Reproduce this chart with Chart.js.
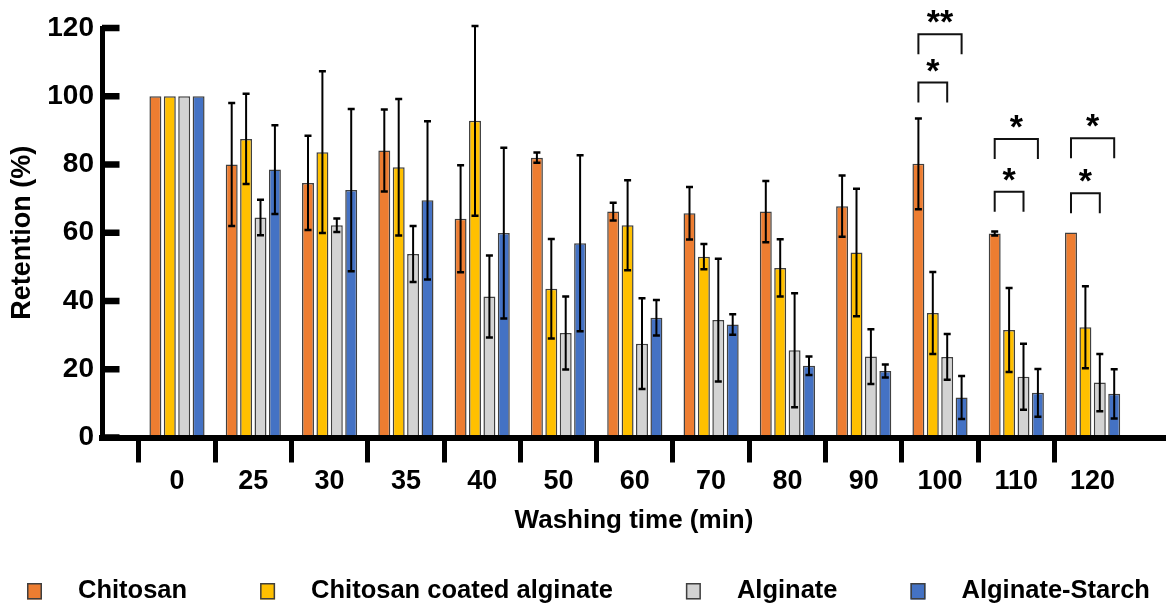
<!DOCTYPE html>
<html>
<head>
<meta charset="utf-8">
<script src="https://cdn.jsdelivr.net/npm/chart.js@4/dist/chart.umd.min.js"></script>
<style>
  html, body { margin: 0; padding: 0; background: #fff; }
</style>
</head>
<body>
<canvas id="retention-chart" width="1166" height="609"></canvas>
<script>
// Categorias (tiempo de lavado, min)
const washTimes = ['0', '25', '30', '35', '40', '50', '60', '70', '80', '90', '100', '110', '120'];

const seriesNames = ['Chitosan', 'Chitosan coated alginate', 'Alginate', 'Alginate-Starch'];
const seriesColors = ['#ED7D31', '#FFC000', '#D3D3D3', '#4472C4'];

// Retencion media (%)
const chitosan       = [100, 80, 74.6, 84.1, 64.1, 82.0, 66.2, 65.7, 66.2, 67.8, 80.2, 59.8, 60.1];
const coatedAlginate = [100, 87.5, 83.6, 79.2, 92.8, 43.6, 62.2, 53.0, 49.7, 54.2, 36.5, 31.5, 32.3];
const alginate       = [100, 64.5, 62.2, 53.8, 41.3, 30.6, 27.5, 34.4, 25.6, 23.7, 23.6, 17.8, 16.1];
const alginateStarch = [100, 78.5, 72.5, 69.5, 59.9, 56.9, 35.1, 33.1, 21.0, 19.5, 11.7, 13.1, 12.8];

// Desviacion (+/-)
const chitosanErr       = [0, 18, 13.8, 12, 15.7, 1.5, 2.6, 7.7, 9, 9, 13.3, 0.6, 0];
const coatedAlginateErr = [0, 13.2, 23.7, 20, 27.8, 14.6, 13.2, 3.7, 8.4, 18.7, 12, 12.3, 12];
const alginateErr       = [0, 5.2, 2, 8.2, 12, 10.7, 13.3, 18, 16.7, 8, 6.7, 9.7, 8.4];
const alginateStarchErr = [0, 13, 23.8, 23.2, 25, 25.8, 5.2, 3, 2.7, 1.9, 6.3, 7, 7.2];

// Significancia: tiempo, serie desde, serie hasta, nivel (%), marca
const sigTime  = ['100', '100', '110', '110', '120', '120'];
const sigFrom  = [0, 0, 0, 0, 0, 0];
const sigTo    = [2, 3, 2, 3, 2, 3];
const sigLevel = [104, 118.2, 72, 87.5, 71.6, 87.7];
const sigMark  = ['*', '**', '*', '*', '*', '*'];

const yTicks = { min: 0, max: 120, step: 20 };

const FONT = '"Liberation Sans", Arial, sans-serif';

const errorBarPlugin = {
    id: 'errorBars',
    afterDatasetsDraw(chart) {
        const ctx = chart.ctx;
        const y = chart.scales.y;
        ctx.save();
        ctx.strokeStyle = '#000';
        chart.data.datasets.forEach((ds, i) => {
            chart.getDatasetMeta(i).data.forEach((bar, j) => {
                const err = ds.errors[j];
                if (!err) return;
                const top = y.getPixelForValue(ds.data[j] + err);
                const bot = y.getPixelForValue(ds.data[j] - err);
                ctx.lineWidth = 2;
                ctx.beginPath();
                ctx.moveTo(bar.x, top);
                ctx.lineTo(bar.x, bot);
                ctx.stroke();
                ctx.lineWidth = 2.5;
                ctx.beginPath();
                ctx.moveTo(bar.x - 3.5, top); ctx.lineTo(bar.x + 3.5, top);
                ctx.moveTo(bar.x - 3.5, bot); ctx.lineTo(bar.x + 3.5, bot);
                ctx.stroke();
            });
        });
        ctx.restore();
    }
};

const bracketPlugin = {
    id: 'sigBrackets',
    afterDatasetsDraw(chart) {
        const ctx = chart.ctx;
        const y = chart.scales.y;
        ctx.save();
        ctx.strokeStyle = '#111';
        ctx.fillStyle = '#000';
        ctx.lineWidth = 2;
        ctx.font = 'bold 34px ' + FONT;
        ctx.textAlign = 'center';
        ctx.textBaseline = 'alphabetic';
        sigTime.forEach((t, k) => {
            const j = washTimes.indexOf(t);
            const x1 = chart.getDatasetMeta(sigFrom[k]).data[j].x;
            const x2 = chart.getDatasetMeta(sigTo[k]).data[j].x;
            const top = y.getPixelForValue(sigLevel[k]);
            ctx.beginPath();
            ctx.moveTo(x1, top + 20);
            ctx.lineTo(x1, top);
            ctx.lineTo(x2, top);
            ctx.lineTo(x2, top + 20);
            ctx.stroke();
            ctx.fillText(sigMark[k], (x1 + x2) / 2, top - 1);
        });
        ctx.restore();
    }
};

// ticks del eje Y hacia dentro
const innerTicksPlugin = {
    id: 'innerTicks',
    afterDraw(chart) {
        const ctx = chart.ctx;
        const y = chart.scales.y;
        ctx.save();
        ctx.fillStyle = '#000';
        y.ticks.forEach(t => {
            const py = y.getPixelForValue(t.value);
            ctx.fillRect(chart.chartArea.left, py - 3.25, 17.5, 6.5);
        });
        ctx.restore();
    }
};

const legendPlugin = {
    id: 'bottomLegend',
    afterDraw(chart) {
        const ctx = chart.ctx;
        const cy = 591;
        let x = 27;
        ctx.save();
        ctx.font = 'bold 25.5px ' + FONT;
        ctx.textBaseline = 'middle';
        chart.data.datasets.forEach(ds => {
            ctx.fillStyle = ds.backgroundColor;
            ctx.fillRect(x, cy - 8, 15, 16.5);
            ctx.strokeStyle = '#3f3f3f';
            ctx.lineWidth = 1.5;
            ctx.strokeRect(x + 0.75, cy - 7.25, 13.5, 15);
            ctx.fillStyle = '#000';
            ctx.fillText(ds.label, x + 51, cy);
            x += 51 + ctx.measureText(ds.label).width + 73;
        });
        ctx.restore();
    }
};

const seriesData = [chitosan, coatedAlginate, alginate, alginateStarch];
const seriesErr = [chitosanErr, coatedAlginateErr, alginateErr, alginateStarchErr];

new Chart(document.getElementById('retention-chart'), {
    type: 'bar',
    data: {
        labels: washTimes,
        datasets: seriesNames.map((name, i) => ({
            label: name,
            data: seriesData[i],
            errors: seriesErr[i],
            backgroundColor: seriesColors[i],
            borderColor: '#404040',
            borderWidth: 1.5,
            categoryPercentage: 0.755,
            barPercentage: 0.83
        }))
    },
    options: {
        responsive: false,
        animation: false,
        devicePixelRatio: 1,
        layout: { padding: { top: 28, right: 0, bottom: 72.5, left: 0 } },
        plugins: {
            legend: { display: false },
            tooltip: { enabled: false }
        },
        scales: {
            x: {
                offset: true,
                grid: {
                    offset: true,
                    drawOnChartArea: false,
                    drawTicks: true,
                    tickLength: 25,
                    lineWidth: 5,
                    color: c => c.type === 'tick' ? '#000' : 'rgba(0,0,0,0)'
                },
                border: { display: true, color: '#000', width: 6, z: 1 },
                ticks: {
                    color: '#000',
                    font: { family: FONT, size: 27, weight: 'bold' },
                    padding: 3,
                    maxRotation: 0,
                    autoSkip: false
                },
                title: {
                    display: true,
                    text: 'Washing time (min)',
                    color: '#000',
                    font: { family: FONT, size: 26, weight: 'bold' },
                    padding: { top: 0, bottom: 0 }
                },
                // hueco entre el eje Y y la primera categoria
                afterBuildTicks: axis => {
                    axis._startValue = -0.983;
                    axis._valueRange = 13.945;
                },
                afterFit: axis => { axis.height = 99; }
            },
            y: {
                min: yTicks.min,
                max: yTicks.max,
                grid: { drawOnChartArea: false, drawTicks: false },
                border: { display: true, color: '#000', width: 5, z: 1 },
                ticks: {
                    stepSize: yTicks.step,
                    color: '#000',
                    font: { family: FONT, size: 28, weight: 'bold' },
                    padding: 8
                },
                title: {
                    display: true,
                    text: 'Retention (%)',
                    color: '#000',
                    font: { family: FONT, size: 27, weight: 'bold' },
                    padding: { top: 6, bottom: 0 }
                },
                afterFit: axis => { axis.width = 102; }
            }
        }
    },
    plugins: [errorBarPlugin, bracketPlugin, innerTicksPlugin, legendPlugin]
});
</script>
</body>
</html>
